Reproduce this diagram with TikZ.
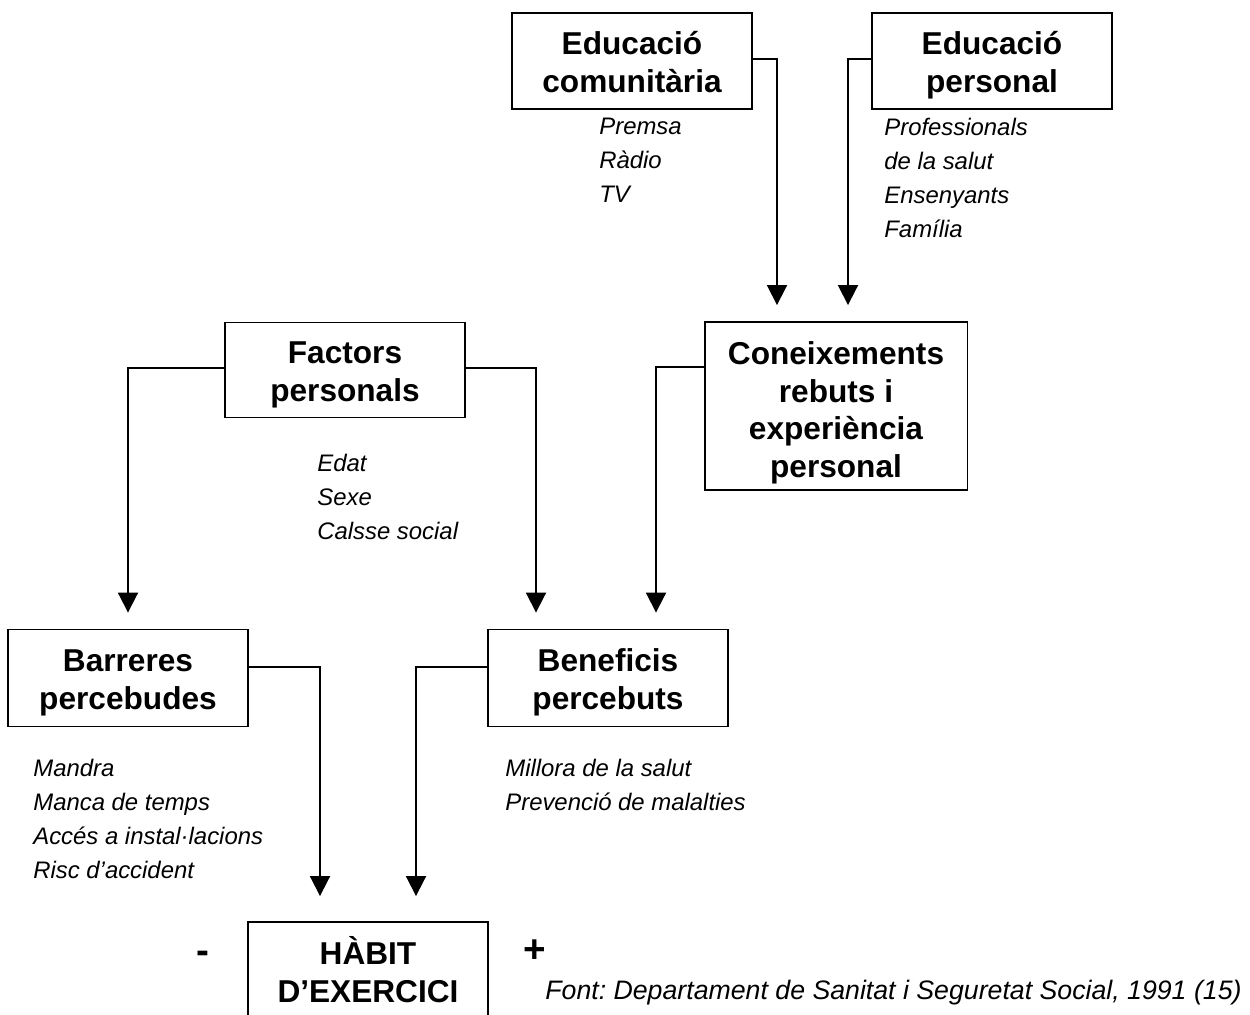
\documentclass[tikz,border=0pt]{standalone}
\usepackage{fontspec}
\setmainfont{Liberation Sans}
\usepackage{tikz}
\usetikzlibrary{arrows.meta,positioning}
\frenchspacing
\newcommand{\lift}[1][17.8pt]{\rule{0pt}{#1}}

\begin{document}
\begin{tikzpicture}[
        x=0.02cm, y=-0.02cm,
        block/.style={rectangle, draw, line width=1.1pt, inner sep=0pt,
                     minimum width=4.8cm, minimum height=1.92cm, align=center,
                     font=\fontsize{18}{21.3}\selectfont\bfseries},
        items/.style={anchor=north west, inner sep=0pt, align=left,
                     font=\fontsize{13.6}{19.3}\selectfont\itshape},
        sign/.style={anchor=base, inner sep=0pt, font=\fontsize{22}{26}\selectfont\bfseries},
        line/.style={draw, line width=1.1pt, -{Triangle[width=0.4cm,length=0.4cm]},
                     shorten >=0.32cm}
      ]
        \clip (0,0) rectangle (1250,1014);

        % Education blocks
        \node [block] (educom) at (632,61) {\lift Educació\\comunitària\vphantom{p}};
        \node [block] (edupers) at (992,61) {\lift Educació\\personal};
        \node [items] (medis) at (599,118) {Premsa\\Ràdio\\TV};
        \node [items] (agents) at (884,118) {Professionals\\de la salut\\Ensenyants\\Família};

        % Middle blocks
        \node [block, minimum height=1.9cm] (factors) at (345,370) {\lift Factors\\personals};
        \node [block, minimum width=5.26cm, minimum height=3.36cm] (conei) at (836,406)
              {\lift[20.8pt]Coneixements\\rebuts i\\experiència\\personal};
        \node [items] (perfil) at (317,454) {Edat\\Sexe\\Calsse social};

        % Perceived blocks
        \node [block, minimum height=1.94cm] (barr) at (128,678) {\lift Barreres\\percebudes};
        \node [block, minimum height=1.94cm] (benef) at (608,678) {\lift Beneficis\\percebuts};
        \node [items] (contra) at (33,759) {Mandra\\Manca de temps\\Accés a instal·lacions\\Risc d’accident};
        \node [items] (pro) at (505,759) {Millora de la salut\\Prevenció de malalties};

        % Output
        \node [block, minimum height=1.9cm] (habit) at (368,969.5) {HÀBIT\\D’EXERCICI};
        \node [sign] (minus) at (203,963) {-};
        \node [sign] (plus) at (535,962) {+};
        \node [items, font=\fontsize{15.2}{19.3}\selectfont\itshape] (font) at (545,980)
              {Font: Departament de Sanitat i Seguretat Social, 1991 (15)};

        % Lines
        \draw [line] (educom.east |- 0,59) -| (conei.north -| 777,0);
        \draw [line] (edupers.west |- 0,59) -| (conei.north -| 848,0);
        \draw [line] (factors.west |- 0,368) -| (barr.north -| 128,0);
        \draw [line] (factors.east |- 0,368) -| (benef.north -| 536,0);
        \draw [line] (conei.west |- 0,367) -| (benef.north -| 656,0);
        \draw [line, shorten >=0.5cm] (barr.east |- 0,667) -| (habit.north -| 320,0);
        \draw [line, shorten >=0.5cm] (benef.west |- 0,667) -| (habit.north -| 416,0);
      \end{tikzpicture}
\end{document}
